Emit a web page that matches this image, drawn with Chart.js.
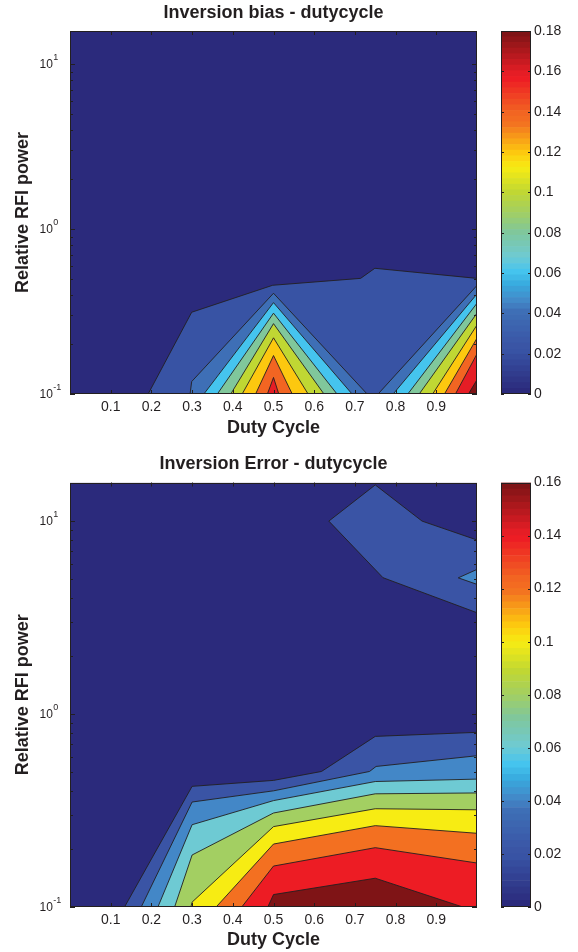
<!DOCTYPE html>
<html><head><meta charset="utf-8">
<script src="https://cdn.jsdelivr.net/npm/chart.js@4.4.1/dist/chart.umd.min.js"></script>
<style>
html,body{margin:0;padding:0;background:#fff;width:578px;height:952px;overflow:hidden;position:relative;}
canvas{position:absolute;}
</style></head><body>
<canvas id="biasMain" width="578" height="445" style="left:0;top:0"></canvas>
<canvas id="biasBar" width="98" height="445" style="left:480px;top:0"></canvas>
<canvas id="errMain" width="578" height="507" style="left:0;top:445px"></canvas>
<canvas id="errBar" width="98" height="507" style="left:480px;top:445px"></canvas>
<script>
const FONT = "'Liberation Sans', Arial, Helvetica, sans-serif";
const INK = '#231f20';

// ---- shared axes ----
const dutyTicks = [0.1, 0.2, 0.3, 0.4, 0.5, 0.6, 0.7, 0.8, 0.9];
const rfiTicks = [0.1, 1, 10];
const rfiMin = 0.1;
const rfiMax = 15.85;

// ---- panel 1: Inversion bias ----
const biasTitle = 'Inversion bias - dutycycle';
const biasColorTicks = [0, 0.02, 0.04, 0.06, 0.08, 0.10, 0.12, 0.14, 0.16, 0.18];
const biasCmax = 0.18;
const biasLevel = [0.02, 0.04, 0.04, 0.06, 0.06, 0.08, 0.08, 0.10, 0.10, 0.12, 0.12, 0.14, 0.14, 0.16, 0.16, 0.18];
const biasLineX = [
  [0.192, 0.299, 0.498, 0.714, 0.749, 1.0],
  [0.295, 0.299, 0.500, 0.730], [0.757, 1.0],
  [0.329, 0.500, 0.693], [0.794, 1.0],
  [0.362, 0.500, 0.656], [0.830, 1.0],
  [0.395, 0.500, 0.624], [0.858, 1.0],
  [0.423, 0.500, 0.585], [0.891, 1.0],
  [0.456, 0.500, 0.546], [0.920, 1.0],
  [0.485, 0.500, 0.513], [0.947, 1.0],
  [0.979, 1.0]
];
const biasLineY = [
  [0.1, 0.313, 0.456, 0.502, 0.578, 0.502],
  [0.1, 0.119, 0.408, 0.1], [0.1, 0.455],
  [0.1, 0.358, 0.1], [0.1, 0.404],
  [0.1, 0.309, 0.1], [0.1, 0.355],
  [0.1, 0.267, 0.1], [0.1, 0.309],
  [0.1, 0.219, 0.1], [0.1, 0.262],
  [0.1, 0.171, 0.1], [0.1, 0.218],
  [0.1, 0.126, 0.1], [0.1, 0.175],
  [0.1, 0.122]
];

// ---- panel 2: Inversion Error ----
const errTitle = 'Inversion Error - dutycycle';
const errColorTicks = [0, 0.02, 0.04, 0.06, 0.08, 0.10, 0.12, 0.14, 0.16];
const errCmax = 0.16;
const errLevel = [0.02, 0.04, 0.06, 0.08, 0.10, 0.12, 0.14, 0.16];
const errLineX = [
  [0.134, 0.300, 0.500, 0.618, 0.750, 1.0],
  [0.175, 0.300, 0.500, 0.736, 0.752, 1.0],
  [0.216, 0.300, 0.500, 0.750, 1.0],
  [0.257, 0.300, 0.500, 0.750, 1.0],
  [0.297, 0.300, 0.500, 0.750, 1.0],
  [0.359, 0.500, 0.750, 1.0],
  [0.422, 0.500, 0.750, 1.0],
  [0.486, 0.500, 0.750, 0.965]
];
const errLineY = [
  [0.1, 0.422, 0.453, 0.504, 0.766, 0.804],
  [0.1, 0.350, 0.400, 0.504, 0.535, 0.608],
  [0.1, 0.267, 0.356, 0.447, 0.460],
  [0.1, 0.186, 0.307, 0.386, 0.390],
  [0.1, 0.106, 0.261, 0.323, 0.319],
  [0.1, 0.212, 0.264, 0.241],
  [0.1, 0.163, 0.203, 0.169],
  [0.1, 0.116, 0.141, 0.1]
];
const errIslandLevel = [0.02, 0.04];
const errIslandTopX = [[0.636, 0.750, 0.865, 1.0], [0.954, 1.0]];
const errIslandTopY = [[10.0, 15.4, 10.0, 7.98], [5.08, 5.62]];
const errIslandBaseX = [[0.636, 0.769, 1.0], [0.954, 1.0]];
const errIslandBaseY = [[10.0, 5.09, 3.35], [5.08, 4.70]];

// ---- colormap (printed jet) ----
const cmapStops = [
  [0.000, '#2b2a7c'], [0.111, '#3853a4'], [0.125, '#3a54a5'], [0.222, '#3e6fb6'],
  [0.250, '#4387c7'], [0.300, '#38acdf'], [0.333, '#45c4ee'], [0.375, '#6ecad3'],
  [0.444, '#80c79b'], [0.500, '#a3cf62'], [0.556, '#c0d733'], [0.625, '#f7ec13'],
  [0.667, '#fdc80f'], [0.750, '#f37021'], [0.778, '#f26522'], [0.875, '#ed1c24'],
  [0.889, '#e51d25'], [1.000, '#7f1416']
];
function hexRgb(h) { return [1, 3, 5].map(i => parseInt(h.substr(i, 2), 16)); }
function cmap(t) {
  t = Math.max(0, Math.min(1, t));
  for (let i = 1; i < cmapStops.length; i++) {
    const [t1, c1] = cmapStops[i];
    if (t <= t1 + 1e-9) {
      const [t0, c0] = cmapStops[i - 1];
      const f = (t - t0) / (t1 - t0);
      const a = hexRgb(c0), b = hexRgb(c1);
      return 'rgb(' + a.map((v, k) => Math.round(v + (b[k] - v) * f)).join(',') + ')';
    }
  }
  return cmapStops[cmapStops.length - 1][1];
}

const pts = (xs, ys) => xs.map((x, j) => ({ x, y: ys[j] }));

function contourDatasets(levels, xs, ys, cmax) {
  const ds = [{ data: [{ x: 0, y: rfiMax }, { x: 1, y: rfiMax }], fill: 'start',
    backgroundColor: cmap(0), borderWidth: 0, order: 5000 }];
  levels.forEach((lv, i) => {
    ds.push({ data: pts(xs[i], ys[i]), fill: 'start', backgroundColor: cmap(lv / cmax),
      borderColor: INK, borderWidth: 0.9, order: 4000 - Math.round(lv * 10000) });
  });
  return ds;
}

const frame = {
  id: 'frame',
  afterDraw(chart) {
    const { ctx, chartArea: a, scales: { x, y } } = chart;
    ctx.save();
    ctx.strokeStyle = INK; ctx.lineWidth = 1;
    ctx.beginPath();
    for (const t of x.ticks) {
      const px = Math.round(x.getPixelForValue(t.value)) + 0.5;
      ctx.moveTo(px, a.bottom); ctx.lineTo(px, a.bottom - 4);
      ctx.moveTo(px, a.top); ctx.lineTo(px, a.top + 4);
    }
    for (const t of y.ticks) {
      for (let m = 1; m <= 9; m++) {
        const v = t.value * m;
        if (v > rfiMax) break;
        const py = Math.round(y.getPixelForValue(v)) + 0.5;
        const len = m === 1 ? 5 : 3;
        ctx.moveTo(a.left, py); ctx.lineTo(a.left + len, py);
        ctx.moveTo(a.right, py); ctx.lineTo(a.right - len, py);
      }
    }
    ctx.stroke();
    ctx.strokeRect(Math.round(a.left) + 0.5, Math.round(a.top) + 0.5,
      Math.round(a.right) - Math.round(a.left) - 1, Math.round(a.bottom) - Math.round(a.top) - 1);
    // log tick labels 10^n
    ctx.fillStyle = INK; ctx.textAlign = 'left'; ctx.textBaseline = 'alphabetic';
    for (const t of y.ticks) {
      const e = Math.round(Math.log10(t.value));
      const py = y.getPixelForValue(t.value);
      ctx.font = '12px ' + FONT;
      ctx.fillText('10', 39.5, py + 4.3);
      const w = ctx.measureText('10').width;
      ctx.font = '9px ' + FONT;
      ctx.fillText(String(e), 39.5 + w + 0.5, py - 4);
    }
    ctx.restore();
  }
};

const barFrame = {
  id: 'barFrame',
  afterDraw(chart) {
    const { ctx, chartArea: a, scales: { y } } = chart;
    ctx.save();
    ctx.strokeStyle = INK; ctx.lineWidth = 1;
    ctx.beginPath();
    for (const t of y.ticks) {
      const py = Math.round(y.getPixelForValue(t.value)) + 0.5;
      ctx.moveTo(a.left, py); ctx.lineTo(a.left + 3, py);
      ctx.moveTo(a.right, py); ctx.lineTo(a.right - 3, py);
    }
    ctx.stroke();
    ctx.strokeRect(Math.round(a.left) + 0.5, Math.round(a.top) + 0.5,
      Math.round(a.right) - Math.round(a.left) - 1, Math.round(a.bottom) - Math.round(a.top) - 1);
    ctx.restore();
  }
};

function mainChart(id, title, datasets, titlePad, xScaleH, xTitlePadB) {
  return new Chart(document.getElementById(id), {
    type: 'line',
    data: { datasets },
    options: {
      responsive: false, animation: false, devicePixelRatio: 1,
      layout: { padding: { left: 0, right: 101, top: 0, bottom: 0 } },
      elements: { point: { radius: 0, hoverRadius: 0 }, line: { tension: 0, borderJoinStyle: 'miter' } },
      plugins: {
        legend: { display: false }, tooltip: { enabled: false },
        title: { display: true, fullSize: false, text: title, color: INK,
          font: { family: FONT, size: 18, weight: 'bold' }, padding: titlePad }
      },
      scales: {
        x: {
          type: 'linear', min: 0, max: 1,
          grid: { display: false, drawTicks: false }, border: { display: false },
          afterBuildTicks: s => { s.ticks = dutyTicks.map(v => ({ value: v })); },
          ticks: { padding: 5, color: INK, maxRotation: 0, autoSkip: false,
            font: { family: FONT, size: 14 }, callback: v => v.toFixed(1) },
          title: { display: true, text: 'Duty Cycle', color: INK,
            font: { family: FONT, size: 18, weight: 'bold' }, padding: { top: 0, bottom: xTitlePadB } },
          afterFit: s => { s.height = xScaleH; }
        },
        y: {
          type: 'logarithmic', min: rfiMin, max: rfiMax,
          grid: { display: false, drawTicks: false }, border: { display: false },
          afterBuildTicks: s => { s.ticks = rfiTicks.map(v => ({ value: v })); },
          ticks: { display: false },
          title: { display: true, text: 'Relative RFI power', color: INK,
            font: { family: FONT, size: 18, weight: 'bold' }, padding: { top: 12.2, bottom: 0 } },
          afterFit: s => { s.width = 70; }
        }
      }
    },
    plugins: [frame]
  });
}

function colorBar(id, cmax, ticks, padTop, padBottom) {
  const n = 64, ds = [];
  for (let i = 0; i < n; i++) {
    ds.push({ data: [cmax / n], backgroundColor: cmap(i / (n - 1)), borderWidth: 0,
      barPercentage: 1, categoryPercentage: 1 });
  }
  return new Chart(document.getElementById(id), {
    type: 'bar',
    data: { labels: [''], datasets: ds },
    options: {
      responsive: false, animation: false, devicePixelRatio: 1,
      layout: { padding: { left: 21, right: 0, top: padTop, bottom: padBottom } },
      plugins: { legend: { display: false }, tooltip: { enabled: false } },
      scales: {
        x: { stacked: true, display: false },
        y: {
          stacked: true, position: 'right', min: 0, max: cmax,
          grid: { display: false, drawTicks: false }, border: { display: false },
          afterBuildTicks: s => { s.ticks = ticks.map(v => ({ value: v })); },
          ticks: { padding: 3, color: INK, font: { family: FONT, size: 14 },
            callback: v => String(+(+v).toFixed(2)) },
          afterFit: s => { s.width = 47; }
        }
      }
    },
    plugins: [barFrame]
  });
}

// Panel 1
mainChart('biasMain', biasTitle, contourDatasets(biasLevel, biasLineX, biasLineY, biasCmax),
  { top: 2.7, bottom: 6.7 }, 51, 6.2);
colorBar('biasBar', biasCmax, biasColorTicks, 31, 51);

// Panel 2
const errSets = contourDatasets(errLevel, errLineX, errLineY, errCmax);
errIslandLevel.forEach((lv, i) => {
  const baseIndex = errSets.length;
  const ord = 4000 - Math.round(lv * 10000);
  errSets.push({ data: pts(errIslandBaseX[i], errIslandBaseY[i]), fill: false,
    borderColor: INK, borderWidth: 0.9, order: ord - 1 });
  errSets.push({ data: pts(errIslandTopX[i], errIslandTopY[i]), fill: baseIndex,
    backgroundColor: cmap(lv / errCmax), borderColor: INK, borderWidth: 0.9, order: ord });
});
mainChart('errMain', errTitle, errSets, { top: 8.2, bottom: 7.7 }, 45, 1.2);
colorBar('errBar', errCmax, errColorTicks, 37.5, 45);
</script>
</body></html>
